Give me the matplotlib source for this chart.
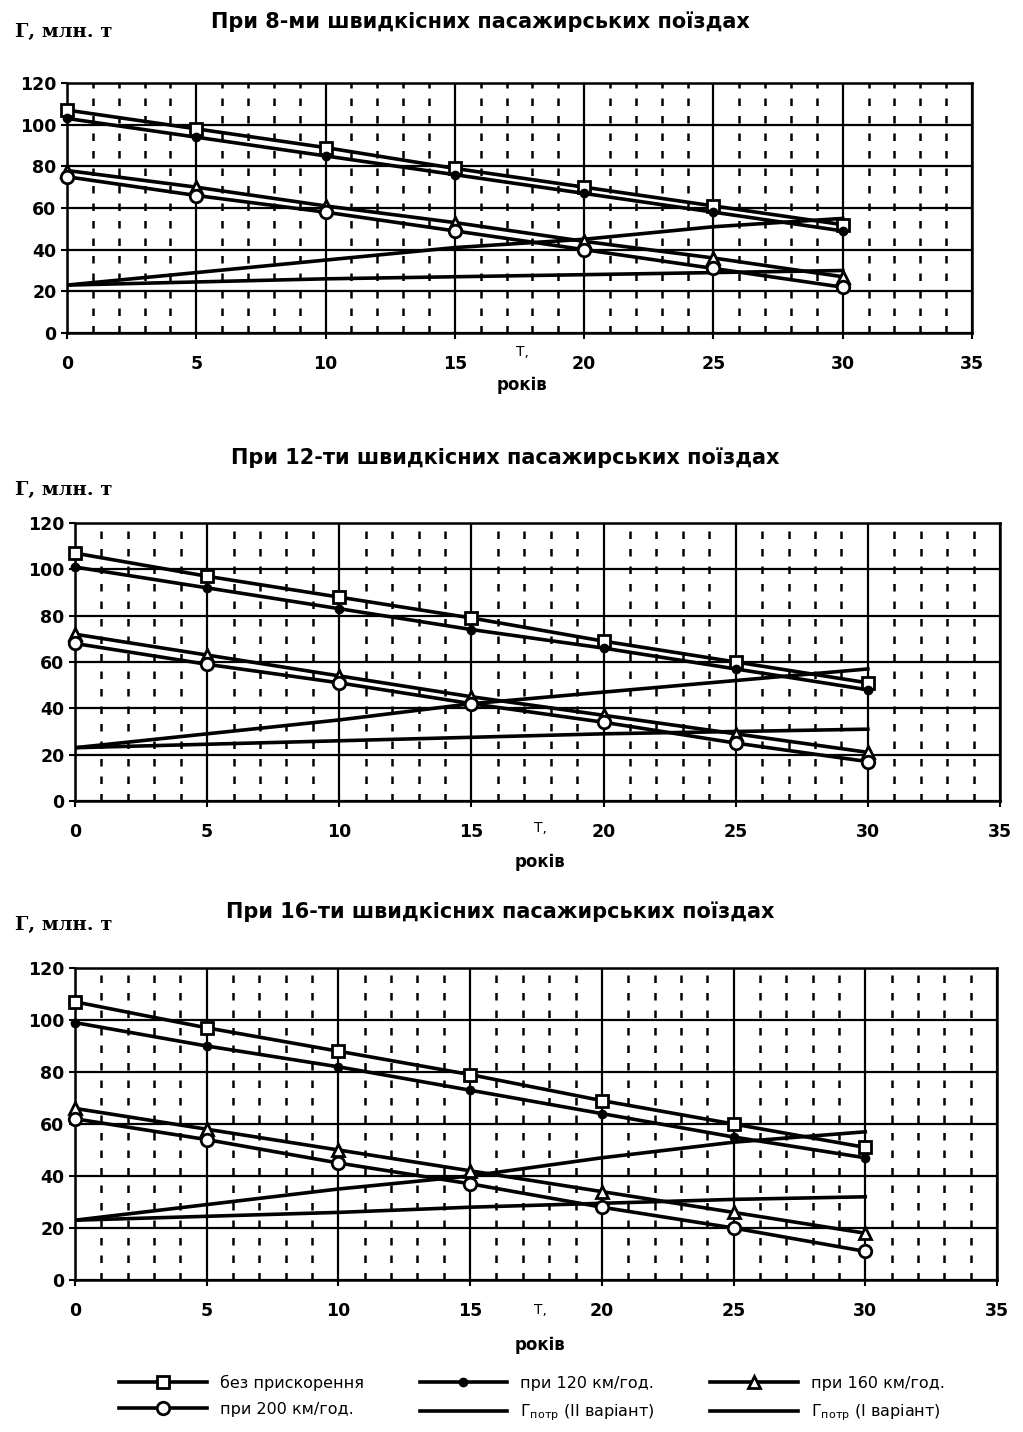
import numpy as np
import matplotlib
matplotlib.use('Agg')
import matplotlib.pyplot as plt
from matplotlib.ticker import MultipleLocator

plt.rcParams['font.family'] = ['DejaVu Sans']

T = [0, 5, 10, 15, 20, 25, 30]  # роки

titles = ['При 8-ми швидкісних пасажирських поїздах',
          'При 12-ти швидкісних пасажирських поїздах',
          'При 16-ти швидкісних пасажирських поїздах']

# panel 1 (8 trains)
bez_8 = [107, 98, 89, 79, 70, 61, 52]
v120_8 = [103, 94, 85, 76, 67, 58, 49]
v160_8 = [78, 70, 61, 53, 44, 36, 27]
v200_8 = [75, 66, 58, 49, 40, 31, 22]
potr2_8 = [23, 29, 35, 41, 45, 51, 55]
potr1_8 = [23, 24.5, 26, 27, 28, 29, 30]

# panel 2 (12 trains)
bez_12 = [107, 97, 88, 79, 69, 60, 51]
v120_12 = [101, 92, 83, 74, 66, 57, 48]
v160_12 = [72, 63, 54, 45, 37, 29, 21]
v200_12 = [68, 59, 51, 42, 34, 25, 17]
potr2_12 = [23, 29, 35, 42, 47, 52, 57]
potr1_12 = [23, 24.5, 26, 27.5, 29, 30, 31]

# panel 3 (16 trains)
bez_16 = [107, 97, 88, 79, 69, 60, 51]
v120_16 = [99, 90, 82, 73, 64, 55, 47]
v160_16 = [66, 58, 50, 42, 34, 26, 18]
v200_16 = [62, 54, 45, 37, 28, 20, 11]
potr2_16 = [23, 29, 35, 40, 47, 53, 57]
potr1_16 = [23, 24.5, 26, 28, 29.5, 31, 32]

panels = [
    (bez_8, v120_8, v160_8, v200_8, potr2_8, potr1_8),
    (bez_12, v120_12, v160_12, v200_12, potr2_12, potr1_12),
    (bez_16, v120_16, v160_16, v200_16, potr2_16, potr1_16),
]

labels = ['без прискорення', 'при 120 км/год.', 'при 160 км/год.',
          'при 200 км/год.', r'Г$_{\mathregular{потр}}$ (ІІ варіант)',
          r'Г$_{\mathregular{потр}}$ (І варіант)']

W, H = 1023, 1432
fig = plt.figure(figsize=(W / 100, H / 100), dpi=100)

# axes rectangles in pixels: left, right, top(120), bottom(0)
boxes = [(67, 972, 83, 333), (75, 1000, 523, 801), (75, 997, 968, 1280)]
title_pos = [(480, 22), (505, 458), (500, 912)]
ylab_pos = [(15, 32), (15, 490), (15, 925)]
tlab = [(522, 352, 385), (540, 828, 862), (540, 1310, 1345)]

lw = 2.6
handles = None
for k, (data, box) in enumerate(zip(panels, boxes)):
    l, r, t, b = box
    ax = fig.add_axes([l / W, 1 - b / H, (r - l) / W, (b - t) / H])
    ax.set_xlim(0, 35)
    ax.set_ylim(0, 120)
    ax.xaxis.set_major_locator(MultipleLocator(5))
    ax.yaxis.set_major_locator(MultipleLocator(20))
    # minor vertical dashed grid
    for xm in range(1, 35):
        if xm % 5:
            ax.axvline(xm, color='black', lw=1.8, ls=(0, (3, 4)), zorder=1)
    ax.grid(True, which='major', color='black', lw=1.6, zorder=1)
    for s in ax.spines.values():
        s.set_linewidth(1.8)
    ax.tick_params(axis='both', labelsize=12.5, length=4, width=1.5)
    for lab in ax.get_xticklabels() + ax.get_yticklabels():
        lab.set_fontweight('bold')
    ax.tick_params(axis='x', pad=12)

    bez, v120, v160, v200, p2, p1 = data
    h1, = ax.plot(T, bez, color='black', lw=lw, marker='s', ms=8.5, mfc='white', mec='black', mew=2, zorder=4, clip_on=False)
    h2, = ax.plot(T, v120, color='black', lw=lw, marker='o', ms=6, mfc='black', mec='black', zorder=4, clip_on=False)
    h3, = ax.plot(T, v160, color='black', lw=lw, marker='^', ms=8.5, mfc='white', mec='black', mew=2, zorder=4, clip_on=False)
    h4, = ax.plot(T, v200, color='black', lw=lw, marker='o', ms=9, mfc='white', mec='black', mew=2, zorder=4, clip_on=False)
    h5, = ax.plot(T, p2, color='black', lw=lw, zorder=3)
    h6, = ax.plot(T, p1, color='black', lw=lw, zorder=3)
    handles = [h1, h2, h3, h4, h5, h6]

    fig.text(title_pos[k][0] / W, 1 - title_pos[k][1] / H, titles[k],
             ha='center', va='center', fontsize=15, fontweight='bold')
    fig.text(ylab_pos[k][0] / W, 1 - ylab_pos[k][1] / H, 'Г, млн. т',
             ha='left', va='center', fontsize=14, fontweight='bold', family='DejaVu Serif')
    fig.text(tlab[k][0] / W, 1 - tlab[k][1] / H, 'T,', ha='center', va='center', fontsize=10)
    fig.text(tlab[k][0] / W, 1 - tlab[k][2] / H, 'років', ha='center', va='center',
             fontsize=12, fontweight='bold')

order = [0, 3, 1, 4, 2, 5]
fig.legend([handles[i] for i in order], [labels[i] for i in order],
           loc='center', bbox_to_anchor=(0.52, 1 - 1399 / H), ncol=3,
           frameon=False, fontsize=11.5, handlelength=5.5, columnspacing=3.5,
           labelspacing=0.7)

fig.savefig('out.png', dpi=100)
